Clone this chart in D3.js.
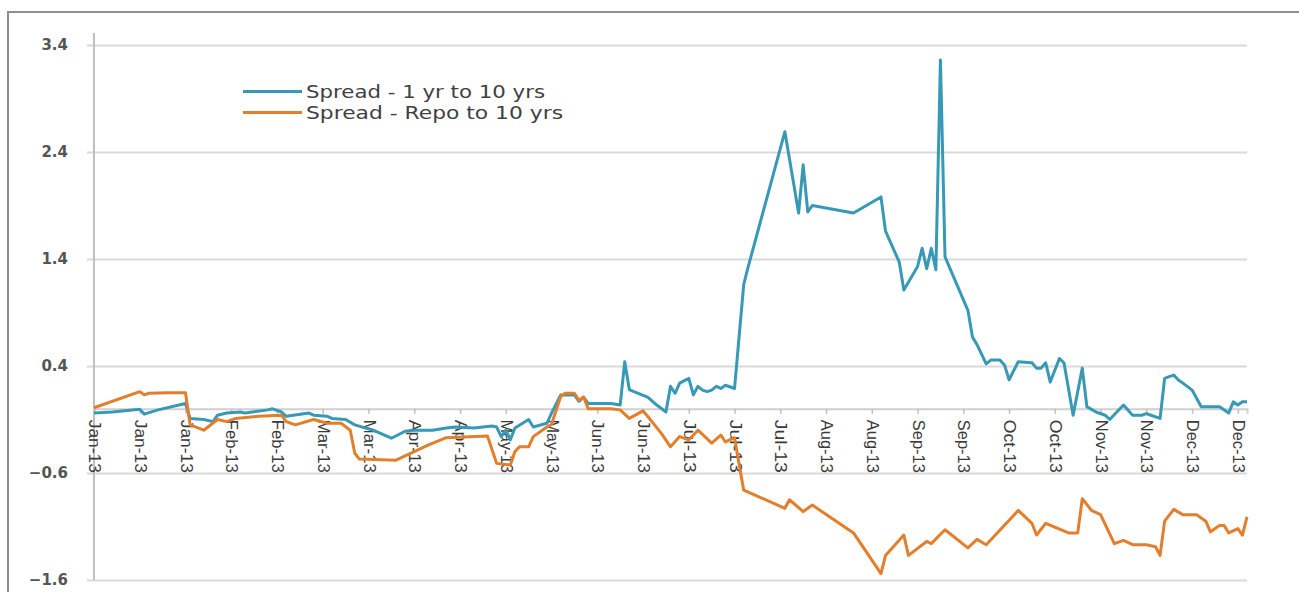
<!DOCTYPE html>
<html>
<head>
<meta charset="utf-8">
<script src="https://cdn.jsdelivr.net/npm/d3@7"></script>
<style>
  html, body { margin: 0; padding: 0; background: #ffffff; }
  svg { display: block; }
</style>
</head>
<body>
<div id="chart"></div>
<script>
// ---------- data ----------
const seriesNames = ["Spread - 1 yr to 10 yrs", "Spread - Repo to 10 yrs"];
const yTicks = [3.4, 2.4, 1.4, 0.4, -0.6, -1.6];
const tickLabels = ["Jan-13","Jan-13","Jan-13","Feb-13","Feb-13","Mar-13","Mar-13","Apr-13","Apr-13",
  "May-13","May-13","Jun-13","Jun-13","Jul-13","Jul-13","Jul-13","Aug-13","Aug-13","Sep-13","Sep-13",
  "Oct-13","Oct-13","Nov-13","Nov-13","Dec-13","Dec-13"];
const labelEvery = 10;      // one category label every 10 trading days
const lastDay = 252;        // trading days 0..252

// Spread - 1 yr to 10 yrs : trading-day index, value
const blueDay = [0,4,10,11,14,20,21,24,26,27,29,32,33,38,39,41,42,47,48,51,52,55,57,61,65,68,70,74,77,79,83,87,88,89,90,91,92,95,96,99,100,
  102,105,106,107,108,113,115,116,117,118,121,123,125,126,127,128,130,131,132,133,134,135,136,137,138,140,142,143,151,154,155,156,157,
  166,172,173,176,177,180,181,182,183,184,185,186,191,192,193,195,196,198,199,200,202,205,206,207,208,209,211,212,214,216,217,219,221,222,
  225,227,229,230,231,233,234,235,236,237,238,240,242,245,246,248,249,250,251,252];
const blueVal = [-0.04,-0.03,-0.005,-0.05,-0.01,0.05,-0.09,-0.10,-0.12,-0.06,-0.04,-0.03,-0.04,-0.01,0.0,-0.03,-0.07,-0.04,-0.06,-0.07,-0.09,-0.10,-0.15,-0.20,-0.275,-0.21,-0.20,-0.20,-0.18,-0.17,-0.18,-0.16,-0.17,-0.26,-0.20,-0.29,-0.18,-0.10,-0.17,-0.135,-0.04,
  0.13,0.13,0.07,0.11,0.05,0.05,0.035,0.44,0.18,0.16,0.11,0.035,-0.03,0.21,0.145,0.24,0.285,0.13,0.21,0.175,0.16,0.175,0.21,0.19,0.22,0.19,1.16,1.33,2.59,1.83,2.28,1.84,1.90,
  1.83,1.98,1.66,1.37,1.11,1.33,1.50,1.31,1.50,1.30,3.26,1.42,0.92,0.67,0.60,0.42,0.455,0.455,0.41,0.27,0.44,0.43,0.38,0.38,0.43,0.25,0.47,0.43,-0.06,0.38,0.02,-0.03,-0.06,-0.10,
  0.035,-0.06,-0.06,-0.045,-0.06,-0.09,0.285,0.30,0.315,0.27,0.24,0.175,0.02,0.02,0.02,-0.04,0.065,0.035,0.065,0.065];

// Spread - Repo to 10 yrs : trading-day index, value
const orangeDay = [0,10,11,12,16,20,21,24,27,29,31,36,41,42,44,48,51,54,56,57,58,66,70,73,77,86,88,91,92,93,95,96,99,100,
  102,103,105,106,107,108,113,115,117,120,121,124,126,128,130,132,135,137,138,140,141,142,151,152,155,157,166,172,173,177,178,
  182,183,186,191,193,195,202,205,206,208,213,215,216,218,220,223,225,227,230,232,233,234,236,238,241,243,244,246,247,248,250,251,252];
const orangeVal = [0.01,0.16,0.13,0.145,0.15,0.15,-0.15,-0.20,-0.10,-0.12,-0.09,-0.07,-0.06,-0.12,-0.15,-0.10,-0.135,-0.135,-0.20,-0.415,-0.47,-0.48,-0.40,-0.34,-0.27,-0.255,-0.51,-0.525,-0.40,-0.355,-0.355,-0.26,-0.17,-0.145,
  0.115,0.145,0.145,0.08,0.11,0.0,0.0,-0.01,-0.09,-0.02,-0.07,-0.23,-0.355,-0.26,-0.29,-0.20,-0.32,-0.245,-0.31,-0.27,-0.52,-0.76,-0.93,-0.85,-0.96,-0.90,-1.16,-1.54,-1.37,-1.18,-1.37,
  -1.24,-1.26,-1.13,-1.30,-1.22,-1.27,-0.95,-1.07,-1.18,-1.07,-1.16,-1.16,-0.84,-0.95,-0.99,-1.26,-1.23,-1.27,-1.27,-1.29,-1.37,-1.05,-0.94,-0.99,-0.99,-1.05,-1.15,-1.09,-1.09,-1.16,-1.12,-1.18,-1.01];

const seriesColors = ["#3799b6", "#e37e2c"];

// ---------- chart ----------
const W = 1299, H = 592;
const svg = d3.select("#chart").append("svg").attr("width", W).attr("height", H);
svg.append("rect").attr("width", W).attr("height", H).attr("fill", "#fff");

// outer frame
svg.append("path").attr("d", `M8,${H} V12 H${W}`).attr("fill", "none")
  .attr("stroke", "#8f8f8f").attr("stroke-width", 2);

const x = d3.scaleLinear().domain([0, lastDay]).range([94, 1247]);
const y = d3.scaleLinear().domain([-1.6, 3.4]).range([580, 45]);

// horizontal gridlines + y-axis
const yAxis = d3.axisLeft(y).tickValues(yTicks).tickSize(-(1247 - 87)).tickPadding(19)
  .tickFormat(d3.format(".1f"));
const gy = svg.append("g").attr("transform", "translate(87,0)").call(yAxis);
gy.select(".domain").remove();
gy.selectAll(".tick line").attr("stroke", "#d9d9d9").attr("stroke-width", 2);
gy.selectAll(".tick text").attr("fill", "#555").attr("font-family", "DejaVu Sans, sans-serif")
  .attr("font-size", 15).attr("font-weight", "bold").attr("textLength", null);

// vertical axis line
svg.append("line").attr("x1", x(0)).attr("x2", x(0)).attr("y1", 33).attr("y2", 580)
  .attr("stroke", "#bfbfbf").attr("stroke-width", 2);

// category axis at zero
const tickDays = tickLabels.map((_, i) => i * labelEvery);
const xAxis = d3.axisBottom(x).tickValues(tickDays).tickSize(5).tickFormat((d, i) => tickLabels[i]);
const gx = svg.append("g").attr("transform", `translate(0,${y(0)})`).call(xAxis);
gx.select(".domain").attr("stroke", "#d0d0d0").attr("stroke-width", 2);
gx.selectAll(".tick line").attr("stroke", "#bfbfbf").attr("stroke-width", 1.5);
gx.selectAll(".tick text")
  .attr("font-family", "Liberation Sans Narrow, Liberation Sans, sans-serif")
  .attr("font-size", 16).attr("fill", "#3a3a3a")
  .attr("text-anchor", "start").attr("dominant-baseline", "central")
  .attr("y", 0).attr("x", 0).attr("dy", null)
  .attr("transform", "translate(0,11) rotate(90)")
  .attr("textLength", 53).attr("lengthAdjust", "spacingAndGlyphs");

// lines
const line = d3.line().x(d => x(d[0])).y(d => y(d[1]));
const blueData = blueDay.map((d, i) => [d, blueVal[i]]);
const orangeData = orangeDay.map((d, i) => [d, orangeVal[i]]);

svg.append("path").datum(blueData).attr("d", line).attr("fill", "none")
  .attr("stroke", seriesColors[0]).attr("stroke-width", 3).attr("stroke-linejoin", "round");
svg.append("path").datum(orangeData).attr("d", line).attr("fill", "none")
  .attr("stroke", seriesColors[1]).attr("stroke-width", 3).attr("stroke-linejoin", "round");

// legend
const legend = svg.append("g");
seriesNames.forEach((name, i) => {
  const ly = 91.5 + i * 21;
  legend.append("line").attr("x1", 243).attr("x2", 302).attr("y1", ly).attr("y2", ly)
    .attr("stroke", seriesColors[i]).attr("stroke-width", 3);
  legend.append("text").attr("x", 306).attr("y", ly).attr("dominant-baseline", "central")
    .attr("font-family", "DejaVu Sans, sans-serif").attr("font-size", 17).attr("fill", "#404040")
    .attr("textLength", i === 0 ? 239 : 257).attr("lengthAdjust", "spacingAndGlyphs")
    .text(name);
});
</script>
</body>
</html>
